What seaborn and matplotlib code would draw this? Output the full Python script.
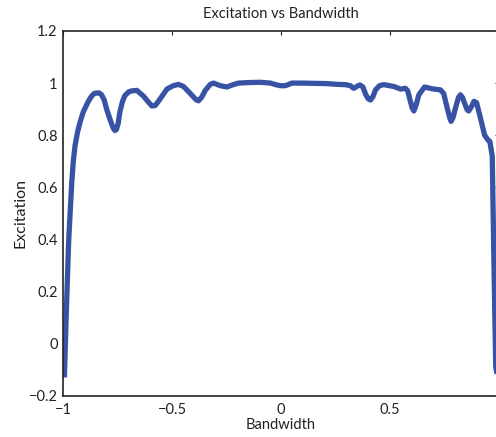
import numpy as np
import pandas as pd
import matplotlib
matplotlib.use("Agg")
import matplotlib.pyplot as plt
import seaborn as sns

# values
bandwidth = [-0.995, -0.985, -0.975, -0.961, -0.954, -0.946, -0.935, -0.923, -0.908, -0.885,
             -0.870, -0.858, -0.847, -0.835, -0.824, -0.812, -0.801, -0.781, -0.770, -0.763,
             -0.756, -0.748, -0.740, -0.728, -0.717, -0.700, -0.686, -0.662, -0.632, -0.610,
             -0.593, -0.578, -0.563, -0.524, -0.495, -0.471, -0.448, -0.428, -0.409, -0.390,
             -0.379, -0.365, -0.348, -0.325, -0.310, -0.279, -0.248, -0.220, -0.195, -0.150,
             -0.095, -0.049, -0.020, -0.003, 0.020, 0.050, 0.100, 0.150, 0.211, 0.260,
             0.296, 0.318, 0.334, 0.350, 0.362, 0.376, 0.388, 0.400, 0.411, 0.422,
             0.434, 0.452, 0.472, 0.518, 0.549, 0.571, 0.582, 0.591, 0.602, 0.610,
             0.620, 0.633, 0.659, 0.694, 0.732, 0.747, 0.763, 0.775, 0.781, 0.790,
             0.801, 0.815, 0.824, 0.833, 0.843, 0.855, 0.862, 0.876, 0.886, 0.898,
             0.916, 0.935, 0.950, 0.959, 0.970, 0.978, 0.986, 0.995]
excitation = [-0.13, 0.15, 0.40, 0.62, 0.70, 0.76, 0.81, 0.85, 0.89, 0.93,
              0.950, 0.960, 0.962, 0.962, 0.955, 0.935, 0.90, 0.85, 0.826, 0.818,
              0.822, 0.845, 0.89, 0.930, 0.952, 0.966, 0.97, 0.972, 0.95, 0.928,
              0.912, 0.914, 0.93, 0.977, 0.99, 0.995, 0.987, 0.970, 0.953, 0.936,
              0.932, 0.945, 0.972, 0.995, 1.0, 0.99, 0.985, 0.994, 1.0, 1.002,
              1.003, 1.0, 0.993, 0.99, 0.99, 1.0, 1.0, 0.999, 0.998, 0.995,
              0.994, 0.990, 0.98, 0.988, 0.993, 0.985, 0.958, 0.940, 0.935, 0.948,
              0.974, 0.990, 0.994, 0.987, 0.977, 0.98, 0.970, 0.94, 0.905, 0.893,
              0.915, 0.955, 0.985, 0.978, 0.974, 0.96, 0.905, 0.866, 0.853, 0.868,
              0.904, 0.945, 0.955, 0.945, 0.923, 0.897, 0.893, 0.912, 0.930, 0.925,
              0.865, 0.80, 0.782, 0.776, 0.72, 0.30, -0.09, -0.13]

xticks = [-1, -0.5, 0, 0.5]
xticklabels = ["\u22121", "\u22120.5", "0", "0.5"]
yticks = [-0.2, 0, 0.2, 0.4, 0.6, 0.8, 1.0, 1.2]
yticklabels = ["\u22120.2", "0", "0.2", "0.4", "0.6", "0.8", "1", "1.2"]

df = pd.DataFrame({"Bandwidth": bandwidth, "Excitation": excitation})

sns.set_style("white")
plt.rcParams['font.family'] = ['Lato', 'DejaVu Sans']
plt.rcParams['font.size'] = 10
plt.rcParams['xtick.direction'] = 'in'
plt.rcParams['ytick.direction'] = 'in'

fig = plt.figure(figsize=(4.96, 4.37), dpi=100)
ax = fig.add_axes([0.1276, 0.0945, 0.878, 0.8346])

sns.lineplot(data=df, x="Bandwidth", y="Excitation", ax=ax, color="#3953a4",
             linewidth=3.8, sort=False, solid_joinstyle="round", solid_capstyle="butt")

ax.set_xlim(-1, 1)
ax.set_ylim(-0.2, 1.2)
ax.set_xticks(xticks)
ax.set_xticklabels(xticklabels)
ax.set_yticks(yticks)
ax.set_yticklabels(yticklabels)
ax.tick_params(top=True, right=True, length=3, width=0.8, colors="#222222",
               labelsize=10.5)
ax.tick_params(axis="x", pad=5)
ax.tick_params(axis="y", pad=4)
for sp in ax.spines.values():
    sp.set_linewidth(1.2)
    sp.set_color("#222222")

ax.set_title("Excitation vs Bandwidth", fontsize=10.5, pad=9, color="#222222")
ax.set_xlabel("Bandwidth", fontsize=10.5, labelpad=1, color="#222222")
ax.set_ylabel("Excitation", fontsize=11.5, labelpad=1, color="#222222")

fig.savefig("out.png", dpi=100)
